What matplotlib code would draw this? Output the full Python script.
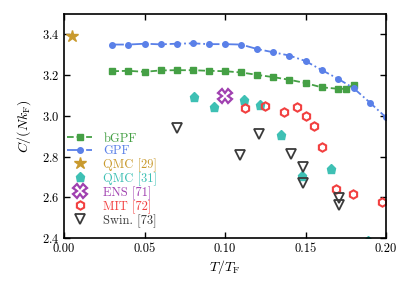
import matplotlib
matplotlib.use("Agg")
import matplotlib.pyplot as plt

plt.rcParams.update({
    "font.family": "serif",
    "font.serif": ["cmr10", "DejaVu Serif"],
    "mathtext.fontset": "cm",
    "axes.formatter.use_mathtext": True,
    "font.size": 9,
})

# bGPF
bgpf_T = [0.03, 0.04, 0.05, 0.06, 0.07, 0.08, 0.09, 0.10, 0.11, 0.12, 0.13, 0.14, 0.15, 0.16, 0.17, 0.175, 0.18]
bgpf_C = [3.219, 3.221, 3.216, 3.223, 3.224, 3.224, 3.221, 3.219, 3.213, 3.201, 3.190, 3.177, 3.161, 3.140, 3.133, 3.132, 3.153]
# GPF
gpf_T = [0.03, 0.04, 0.05, 0.06, 0.07, 0.08, 0.09, 0.10, 0.11, 0.12, 0.13, 0.14, 0.15, 0.16, 0.17, 0.18, 0.19, 0.20]
gpf_C = [3.350, 3.350, 3.354, 3.351, 3.354, 3.356, 3.352, 3.352, 3.350, 3.328, 3.312, 3.296, 3.269, 3.225, 3.183, 3.135, 3.065, 2.992]
# QMC [29]
qmc29_T = [0.005]
qmc29_C = [3.39]
# QMC [31]
qmc31_T = [0.081, 0.093, 0.112, 0.122, 0.135, 0.148, 0.166, 0.189]
qmc31_C = [3.093, 3.042, 3.080, 3.054, 2.907, 2.704, 2.740, 2.385]
# ENS [71]
ens_T = [0.100]
ens_C = [3.099]
# MIT [72]
mit_T = [0.1126, 0.1247, 0.1365, 0.145, 0.1503, 0.1553, 0.1605, 0.169, 0.1795, 0.1977]
mit_C = [3.036, 3.050, 3.020, 3.045, 2.997, 2.948, 2.845, 2.639, 2.618, 2.576]
# Swinburne [73]
swin_T = [0.070, 0.1213, 0.1093, 0.141, 0.1483, 0.1483, 0.1706, 0.1706]
swin_C = [2.940, 2.912, 2.806, 2.813, 2.748, 2.672, 2.597, 2.564]

c_green = "#45a045"
c_blue = "#5a80e8"
c_gold = "#c99a2e"
c_teal = "#3ec0b4"
c_purple = "#a040b0"
c_red = "#f24040"
c_gray = "#3a3a3a"

fig = plt.figure(figsize=(4.15, 2.95), dpi=100)
ax = fig.add_axes([64/415, 1-238/295, 322/415, 224/295])

ax.plot(bgpf_T, bgpf_C, ls="--", marker="s", ms=4, color=c_green, lw=1.3, label="bGPF")
ax.plot(gpf_T, gpf_C, ls="-.", marker="o", ms=4, color=c_blue, lw=1.3, label="GPF")
ax.plot(qmc29_T, qmc29_C, ls="none", marker="*", ms=9, color=c_gold, label="QMC [29]", clip_on=False)
ax.plot(qmc31_T, qmc31_C, ls="none", marker="p", ms=6.5, color=c_teal, label="QMC [31]")
ax.plot(ens_T, ens_C, ls="none", marker="X", ms=10, mfc="white", mec=c_purple, mew=1.6, color=c_purple, label="ENS [71]")
ax.plot(mit_T, mit_C, ls="none", marker="h", ms=6, mfc="none", mec=c_red, mew=1.5, color=c_red, label="MIT [72]")
ax.plot(swin_T, swin_C, ls="none", marker="v", ms=6.5, mfc="none", mec=c_gray, mew=1.3, color=c_gray, label="Swin. [73]")

ax.set_xlim(0, 0.2)
ax.set_ylim(2.4, 3.5)
ax.set_xticks([0.0, 0.05, 0.10, 0.15, 0.20])
ax.set_xticklabels(["0.00", "0.05", "0.10", "0.15", "0.20"])
ax.set_yticks([2.4, 2.6, 2.8, 3.0, 3.2, 3.4])
ax.tick_params(direction="in", top=True, right=True, length=4, width=1, labelsize=9)
for s in ax.spines.values():
    s.set_linewidth(1.2)
ax.set_xlabel(r"$T/T_{\mathrm{F}}$", fontsize=10, labelpad=2)
ax.set_ylabel(r"$C/(Nk_{\mathrm{F}})$", fontsize=10, labelpad=6)

leg = ax.legend(loc="upper left", frameon=False, fontsize=9, handlelength=2.0,
                handletextpad=0.9, labelspacing=0.04, borderpad=0.0, borderaxespad=0.0,
                bbox_to_anchor=(0.01, 0.47))
for txt, h in zip(leg.get_texts(), leg.legend_handles):
    txt.set_color(h.get_color())

fig.savefig("out.png", dpi=100)
